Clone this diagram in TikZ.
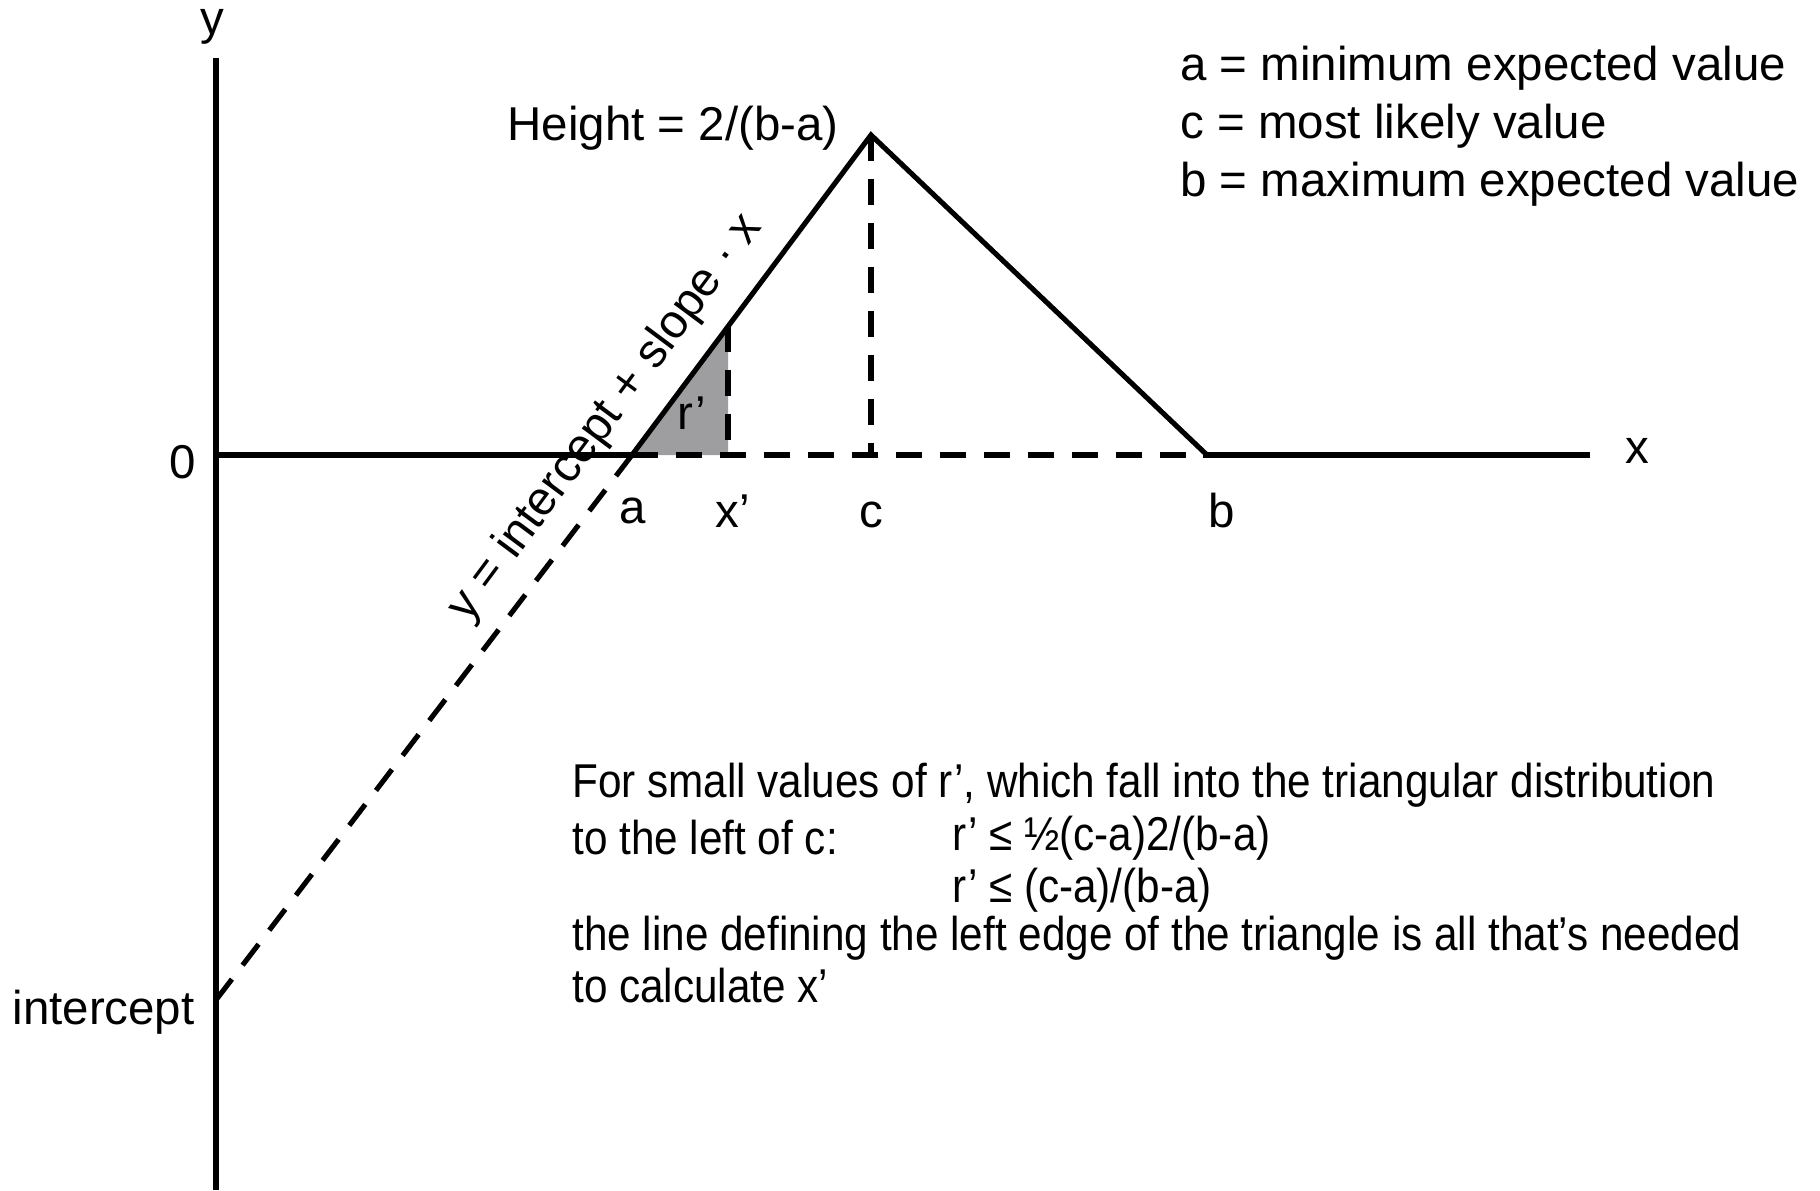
\documentclass[tikz,border=0pt]{standalone}
\usepackage{fontspec}
\setmainfont{Liberation Sans}
\newfontfamily\narrowfont[FakeStretch=0.89]{Liberation Sans}
\definecolor{areagray}{RGB}{158,158,161}
\begin{document}
\begin{tikzpicture}[x=0.01cm,y=-0.01cm,font=\fontsize{13.5}{16}\selectfont,
  axis/.style={line width=1.45pt},
  guide/.style={line width=1.45pt,dash pattern=on 7.5pt off 5pt},
  note/.style={anchor=west,font=\fontsize{13.5}{16}\narrowfont}]
\useasboundingbox (0,0) rectangle (1820,1190);
% axes and the triangle
\coordinate (ytop) at (216,58);
\coordinate (ybot) at (216,1190);
\coordinate (orig) at (216,455);
\coordinate (xend) at (1590,455);
\coordinate (a) at (632,455);
\coordinate (c) at (871,135);
\coordinate (cfoot) at (871,455);
\coordinate (b) at (1207,455);
\coordinate (xp) at (728,455);
\coordinate (xptop) at (728,326);
\coordinate (icpt) at (216,1000);
\fill[areagray] (a) -- (xptop) -- (xp) -- cycle;
\draw[axis] (ytop) -- (ybot);
\draw[axis] (orig) -- (a);
\draw[axis] (b) -- (xend);
\draw[axis] (a) -- (c) -- (b);
\draw[guide] (a) -- (b);
\draw[guide] (c) -- (cfoot);
\draw[guide] (xptop) -- (xp);
\draw[guide] (a) -- (icpt);
% labels
\node (ylab) at (212,27) {y};
\node (xlab) at (1637,451) {x};
\node (zero) at (183,462) {0};
\node[anchor=east] (icptlab) at (207,1012) {intercept};
\node (alab) at (633,511) {a};
\node (xplab) at (733,511) {x’};
\node (clab) at (871,515) {c};
\node (blab) at (1222,511) {b};
\node (rlab) at (692,413) {r’};
\node (hlab) at (673,128) {Height = 2/(b-a)};
\node[rotate=53.35] (linelab) at (606,418) {y = intercept + slope · x};
% legend
\node[anchor=west] (leg1) at (1168,68) {a = minimum expected value};
\node[anchor=west] (leg2) at (1168,126) {c = most likely value};
\node[anchor=west] (leg3) at (1168,184) {b = maximum expected value};
% note
\node[note] (n1) at (560,785) {For small values of r’, which fall into the triangular distribution};
\node[note] (n2) at (560,838) {to the left of c:};
\node[note] (n2b) at (940,838) {r’ ≤ ½(c-a)2/(b-a)};
\node[note] (n3) at (940,890) {r’ ≤ (c-a)/(b-a)};
\node[note] (n4) at (560,938) {the line defining the left edge of the triangle is all that’s needed};
\node[note] (n5) at (560,986) {to calculate x’};
\end{tikzpicture}
\end{document}
